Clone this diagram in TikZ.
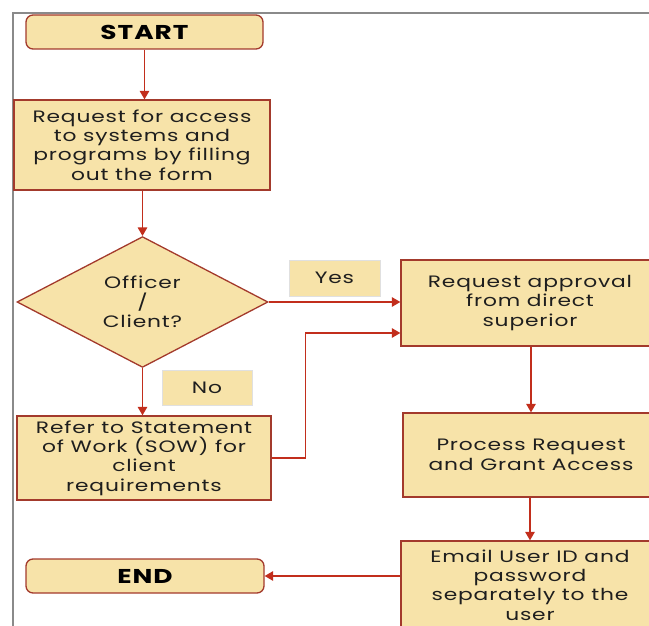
\documentclass[tikz,border=0pt]{standalone}
\usepackage{fontspec}
\setmainfont{Poppins}[FakeStretch=1.32, LetterSpace=5]
\usetikzlibrary{arrows.meta,shapes.geometric,calc}
\definecolor{boxfill}{HTML}{F7E3A9}
\definecolor{boxedge}{HTML}{A33A2C}
\definecolor{flow}{HTML}{C22E1C}
\definecolor{framegray}{HTML}{8A8A8A}
\definecolor{ink}{HTML}{1E1E1E}
\begin{document}
\begin{tikzpicture}[x=1pt,y=-1pt,
  every node/.style={font=\fontsize{16.5}{19.4}\selectfont, text=ink, align=center},
  stepbox/.style={draw=boxedge, fill=boxfill, line width=1.3pt, inner sep=0pt},
  terminal/.style={stepbox, rounded corners=7pt, font=\fontsize{20}{22}\selectfont\bfseries, text=black},
  decision/.style={stepbox, diamond},
  tag/.style={fill=boxfill, draw=black!12, line width=0.6pt, inner sep=0pt},
  flowline/.style={draw=flow, line width=1.3pt, -{Triangle[width=9.5pt,length=8.5pt]}},
]
\useasboundingbox (0,0) rectangle (649,626);
\clip (0,0) rectangle (649,626);

% page frame
\draw[framegray, line width=1.5pt] (13,630) -- (13,13) -- (660,13);

% left column
\node[terminal, minimum width=237pt, minimum height=34pt] (start) at (144.5,32) {START};
\node[stepbox, minimum width=256pt, minimum height=90pt] (form) at (142,145)
  {Request for access\\to systems and\\programs by filling\\out the form};
\node[decision, minimum width=251pt, minimum height=128pt] (choice) at (142.5,302)
  {Officer\\/\\Client?};
\node[stepbox, minimum width=254pt, minimum height=84pt] (sow) at (144,458)
  {Refer to Statement\\of Work (SOW) for\\client\\requirements};
\node[terminal, minimum width=238pt, minimum height=34pt] (finish) at (145,576) {END};

% branch labels
\node[tag, minimum width=91pt, minimum height=36pt] (yes) at (334.5,278) {Yes};
\node[tag, minimum width=90pt, minimum height=35pt] (no) at (207,387.5) {No};

% right column
\node[stepbox, minimum width=258pt, minimum height=86pt] (approval) at (530,303)
  {Request approval\\from direct\\superior};
\node[stepbox, minimum width=256pt, minimum height=84pt] (process) at (531,455)
  {Process Request\\and Grant Access};
\node[stepbox, minimum width=258pt, minimum height=88pt] (email) at (530,585)
  {Email User ID and\\password\\separately to the\\user};

% connectors
\draw[flowline] (start.south) -- (start.south |- form.north);
\draw[flowline] (choice.north |- form.south) -- (choice.north);
\draw[flowline] (choice.east) -- (choice.east -| approval.west);
\draw[flowline] (choice.south) -- (choice.south |- sow.north);
\draw[flowline] (sow.east) -- ++(34,0) |- ($(approval.west)+(0,30)$);
\draw[flowline] (approval.south -| process.north) -- (process.north);
\draw[flowline] (email.north |- process.south) -- (email.north);
\draw[flowline] (finish.east -| email.west) -- (finish.east);
\end{tikzpicture}
\end{document}
